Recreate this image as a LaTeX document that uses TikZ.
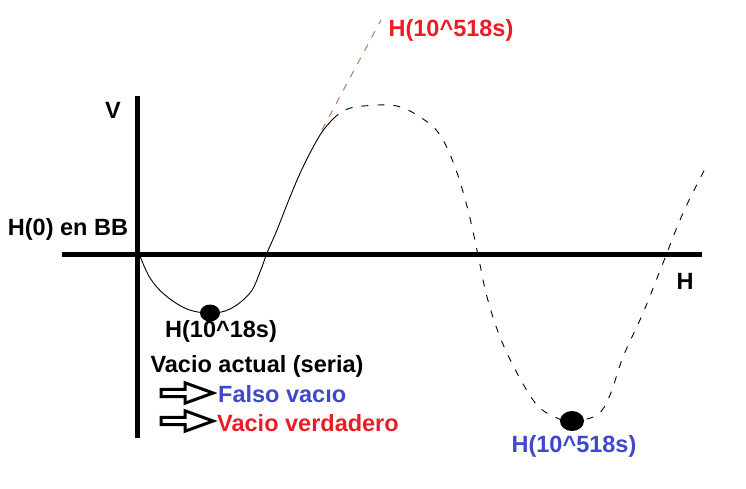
\documentclass[tikz,border=0pt]{standalone}
\usepackage{fontspec}
\setmainfont{Liberation Sans}
\usetikzlibrary{shapes.arrows}
\definecolor{pblue}{RGB}{63,72,204}
\definecolor{pred}{RGB}{237,28,36}
\definecolor{pbrown}{RGB}{185,122,87}
\begin{document}
\begin{tikzpicture}[x=1pt,y=-1pt,
  lbl/.style={font=\fontsize{23.5}{28}\selectfont\bfseries, inner sep=0pt},
  axisline/.style={line width=5pt},
  curve/.style={line width=0.9pt},
  dashcurve/.style={line width=0.9pt, dash pattern=on 7pt off 9pt},
  hollow/.style={single arrow, draw=black, fill=white, line width=3pt,
    minimum height=52pt, inner sep=2.2pt, single arrow head extend=6.5pt,
    single arrow tip angle=40, anchor=center},
  dot/.style={fill=black, draw=none}]
\useasboundingbox (0,0) rectangle (746,488);
% axes
\coordinate (vtop) at (137,96);
\coordinate (vbot) at (137,438);
\coordinate (hl) at (62,254);
\coordinate (hr) at (702,254);
\draw[axisline] (vtop) -- (vbot);
\draw[axisline] (hl) -- (hr);
% curve
\draw[curve] plot[smooth, tension=0.6] coordinates {(140,256) (150,278) (165,295) (187,309) (210,313) (230,309) (250,293) (260,272) (267,253) (277,230) (290,197) (303,167) (320,135) (333,119)};
\draw[dashcurve] plot[smooth, tension=0.6] coordinates {(333,119) (345,110) (363,106) (397,106) (423,119) (440,135) (455,167) (468,210) (478,255) (487,297) (500,337) (517,373) (537,405) (557,418) (572,421) (597,415) (610,395) (623,357) (643,313) (663,263) (683,213) (708,163)};
% tangent
\coordinate (t1) at (322,130);
\coordinate (t2) at (381,20);
\draw[pbrown, line width=1pt, dash pattern=on 7pt off 8pt] (t1) -- (t2);
% dots
\fill[dot] (210,313) ellipse [x radius=10, y radius=8.5];
\fill[dot] (572,421) ellipse [x radius=12, y radius=10];
% labels
\node[lbl] (V) at (113,110) {V};
\node[lbl] (H0) at (68,229) {H(0) en BB};
\node[lbl] (H) at (685,281) {H};
\node[lbl] (h18) at (221,331) {H(10\textasciicircum18s)};
\node[lbl] (actual) at (257,366) {Vacio actual (seria)};
\node[hollow] (a1) at (182,393) {};
\node[hollow] (a2) at (182,421) {};
\node[lbl, text=pblue, anchor=west] (falso) at (218,394) {Falso vacıo};
\node[lbl, text=pred, anchor=west] (verd) at (217,423) {Vacio verdadero};
\node[lbl, text=pblue] (h518b) at (574,446) {H(10\textasciicircum518s)};
\node[lbl, text=pred] (h518r) at (451,30) {H(10\textasciicircum518s)};
\end{tikzpicture}
\end{document}
